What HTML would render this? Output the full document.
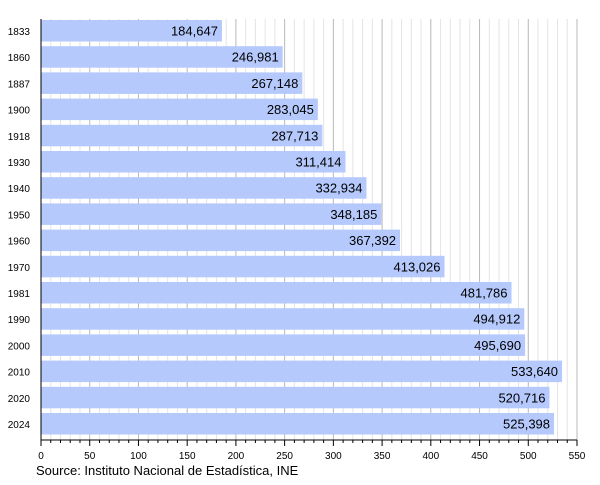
<!DOCTYPE html><html><head><style>body{margin:0;background:#fff}</style></head><body>
<svg width="600" height="480" xmlns="http://www.w3.org/2000/svg" font-family="Liberation Sans, sans-serif">
<g id="g"></g>
<script>
var s=41,k=536/550,ns="http://www.w3.org/2000/svg",g=document.getElementById('g');
function el(n,a,t){var e=document.createElementNS(ns,n);for(var i in a)e.setAttribute(i,a[i]);if(t!==undefined)e.textContent=String(t);g.appendChild(e);return e;}
for(var v=10;v<=550;v+=10){var x=s+v*k;el('line',{x1:x,x2:x,y1:19,y2:440,stroke:v%50?'#e4e4e4':'#b8b8b8','stroke-width':1});}
var d=[["1833",184647],["1860",246981],["1887",267148],["1900",283045],["1918",287713],["1930",311414],["1940",332934],["1950",348185],["1960",367392],["1970",413026],["1981",481786],["1990",494912],["2000",495690],["2010",533640],["2020",520716],["2024",525398]];
d.forEach(function(r,i){var y=20+i*26.2,w=r[1]/1000*k+1;
el('rect',{x:s,y:y,width:w,height:21.5,fill:'#b5c9fd'});
el('text',{x:s+w-4,y:y+15.5,'text-anchor':'end','font-size':13,fill:'#000'},r[1].toLocaleString('en-US'));
el('text',{x:30,y:y+15,'text-anchor':'end','font-size':10},r[0]);});
el('line',{x1:s,x2:s,y1:19,y2:440,stroke:'#000'});
el('line',{x1:s,x2:s+550*k,y1:440,y2:440,stroke:'#000'});
for(var v=0;v<=550;v+=10){var x=s+v*k;el('line',{x1:x,x2:x,y1:440,y2:v%50?443:446,stroke:'#000'});
if(v%50==0)el('text',{x:x,y:459,'text-anchor':'middle','font-size':10},v);}
el('text',{x:36,y:475,'font-size':13},'Source: Instituto Nacional de Estadística, INE');
</script></svg></body></html>
